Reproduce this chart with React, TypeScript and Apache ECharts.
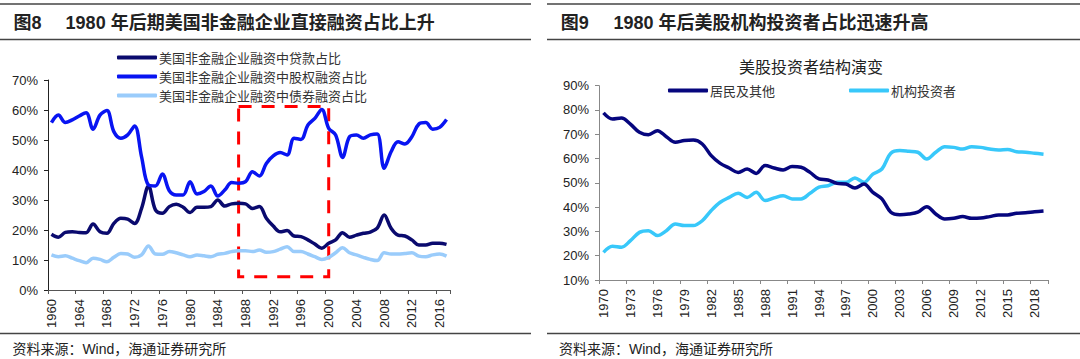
import React, { useEffect, useRef } from "react";
import * as echarts from "echarts";

const leftYears: string[] = Array.from({ length: 58 }, (_, i) => String(1960 + i));
const rightYears: string[] = Array.from({ length: 50 }, (_, i) => String(1970 + i));

const loanShare = [
  18.6, 17.6, 19.2, 19.4, 19.2, 19.1, 22, 19.4, 18.9, 22.2,
  23.9, 23.6, 22.2, 27.2, 34.7, 26.7, 25.6, 27.8, 28.6, 27.6,
  25.8, 27.6, 27.6, 27.8, 30, 28, 28.7, 28.9, 28.7, 27.2,
  27.8, 23.9, 21.3, 19.4, 19.8, 18, 17.8, 16.7, 15.3, 13.9,
  15.6, 16.7, 19.1, 17.6, 18.3, 18.9, 19.3, 20.6, 25, 20.6,
  18.3, 18, 16.7, 15, 15, 15.6, 15.6, 15.2,
];
const equityShare = [
  55.8, 58.3, 55.8, 56.7, 58, 59.1, 53.6, 58.3, 59.8, 52.8,
  50.6, 51.7, 54.7, 44.4, 35, 34.7, 38.7, 33.1, 31.7, 31.7,
  36.1, 32, 32.8, 34.7, 31.3, 33.3, 35.8, 35.6, 36.1, 39.4,
  38, 42.2, 44.7, 45.8, 45, 50.6, 50.2, 55, 57.2, 60.2,
  53.9, 51.7, 44.2, 51.1, 51.7, 50.6, 51.7, 52, 40.6, 46.1,
  49.4, 48.7, 51.1, 55.3, 55.8, 53.6, 54.2, 56.8,
];
const bondShare = [
  11.7, 11.1, 11.4, 10.6, 9.8, 9.1, 10.6, 10.2, 9.4, 10.9,
  12.2, 12, 10.9, 11.7, 14.7, 12, 11.9, 12.8, 12.4, 11.7,
  11.1, 11.7, 11.4, 11.1, 11.9, 12.2, 12.8, 13.1, 13.1, 12.8,
  13.3, 12.6, 12.8, 13.6, 14.4, 12.8, 12.8, 12, 11.1, 10.2,
  10.9, 12.4, 14.1, 12.4, 11.7, 10.9, 10.2, 9.8, 12.4, 12,
  12, 12.2, 12.4, 11.3, 11.1, 11.7, 12, 11.3,
];
const households = [
  78.8, 76.3, 76.7, 74.2, 70.8, 69.8, 71.5, 69, 66.7, 67.4,
  67.6, 66, 61.2, 58, 56.1, 54.3, 55.7, 53.9, 57.1, 56.1,
  55.3, 56.7, 56.4, 54.3, 51.6, 51.2, 49.8, 49.5, 47.9, 49.5,
  46.1, 43.4, 37.9, 36.9, 37.2, 37.9, 40.2, 37.2, 35.1, 35.4,
  36.1, 35.4, 35.5, 36.1, 36.8, 36.8, 37.5, 37.7, 38.1, 38.4,
];
const institutions = [
  21.4, 23.9, 23.5, 26.2, 29.6, 30.3, 28.3, 30.3, 33.1, 32.4,
  32.4, 34.4, 38.6, 42, 44, 45.7, 44, 46.1, 42.7, 43.8,
  44.7, 43.4, 43.4, 45.7, 48.2, 48.8, 50.2, 50.2, 52, 50.2,
  53.6, 55.7, 62.2, 63.3, 63, 62.6, 59.8, 62.6, 64.9, 64.6,
  63.9, 64.9, 64.6, 63.9, 63.5, 63.7, 62.8, 62.6, 62.2, 61.8,
];

const leftNames = ["美国非金融企业融资中贷款占比", "美国非金融企业融资中股权融资占比", "美国非金融企业融资中债券融资占比"];
const rightNames = ["居民及其他", "机构投资者"];
const highlightRange = { fromYear: "1987", toYear: "2000", top: 61.2, bottom: 4.4 };

const FONT = "'Liberation Sans', Arial, 'Noto Sans CJK SC', sans-serif";

export default function App() {
  const ref = useRef<HTMLDivElement>(null);
  useEffect(() => {
    document.body.style.margin = "0";
    const chart = echarts.init(ref.current!, undefined, { renderer: "svg" });
    const axisLabel = { color: "#222", fontSize: 13, fontFamily: FONT };
    const legendBase = {
      orient: "horizontal",
      icon: "roundRect",
      itemWidth: 40,
      itemHeight: 4,
      itemGap: 6,
      textStyle: { color: "#333", fontSize: 13, fontFamily: "'Noto Sans CJK SC', sans-serif", padding: [0, 0, 0, -3] },
      selectedMode: false,
      padding: 0,
    };
    const rule = (x1: number, x2: number, y: number) => ({
      type: "line",
      shape: { x1, y1: y, x2, y2: y },
      style: { stroke: "#444", lineWidth: 1.5 },
      silent: true,
    });
    const text = (t: string, x: number, y: number, size: number, bold: boolean, align = "left") => ({
      type: "text",
      x,
      y,
      style: {
        text: t,
        fill: "#222",
        font: `${bold ? "bold " : ""}${size}px 'Liberation Sans', Arial, 'Noto Sans CJK SC', sans-serif`,
        textAlign: align,
        textVerticalAlign: "middle",
      },
      silent: true,
    });
    chart.setOption({
      animation: false,
      textStyle: { fontFamily: FONT },
      grid: [
        { left: 48, right: 630, top: 80, bottom: 69 },
        { left: 599, right: 32, top: 85.7, bottom: 79 },
      ],
      xAxis: [
        {
          type: "category",
          gridIndex: 0,
          data: leftYears,
          boundaryGap: true,
          axisLine: { lineStyle: { color: "#555", width: 1 } },
          axisTick: { show: true, interval: 3, length: 4, lineStyle: { color: "#555" } },
          axisLabel: { ...axisLabel, rotate: 90, interval: 3, margin: 9 },
        },
        {
          type: "category",
          gridIndex: 1,
          data: rightYears,
          boundaryGap: true,
          axisLine: { lineStyle: { color: "#888", width: 1 } },
          axisTick: { show: true, interval: 2, length: 4, lineStyle: { color: "#888" } },
          axisLabel: { ...axisLabel, rotate: 90, interval: 2, margin: 9 },
        },
      ],
      yAxis: [
        {
          type: "value",
          gridIndex: 0,
          min: 0,
          max: 70,
          interval: 10,
          axisLine: { show: true, lineStyle: { color: "#222", width: 1 } },
          axisTick: { show: true, length: 4, lineStyle: { color: "#222" } },
          splitLine: { show: false },
          axisLabel: { ...axisLabel, margin: 10, formatter: "{value}%" },
        },
        {
          type: "value",
          gridIndex: 1,
          min: 10,
          max: 90,
          interval: 10,
          axisLine: { show: true, lineStyle: { color: "#888", width: 1 } },
          axisTick: { show: true, length: 4, lineStyle: { color: "#888" } },
          splitLine: { show: false },
          axisLabel: { ...axisLabel, margin: 10, formatter: "{value}%" },
        },
      ],
      legend: [
        { ...legendBase, left: 117, top: 51, data: [leftNames[0]] },
        { ...legendBase, left: 117, top: 70, data: [leftNames[1]] },
        { ...legendBase, left: 117, top: 89, data: [leftNames[2]] },
        { ...legendBase, left: 668, top: 84, data: [rightNames[0]] },
        { ...legendBase, left: 849, top: 84, data: [rightNames[1]] },
      ],
      series: [
        {
          name: leftNames[0],
          type: "line",
          xAxisIndex: 0,
          yAxisIndex: 0,
          data: loanShare,
          smooth: 0.35,
          showSymbol: false,
          lineStyle: { color: "#0A0A6E", width: 3.5 },
          itemStyle: { color: "#0A0A6E" },
          z: 3,
        },
        {
          name: leftNames[1],
          type: "line",
          xAxisIndex: 0,
          yAxisIndex: 0,
          data: equityShare,
          smooth: 0.35,
          showSymbol: false,
          lineStyle: { color: "#0814F2", width: 3.5 },
          itemStyle: { color: "#0814F2" },
          z: 3,
          markArea: {
            silent: true,
            itemStyle: { color: "rgba(0,0,0,0)", borderColor: "#FF0000", borderWidth: 3, borderType: [13, 10] },
            data: [[
              { xAxis: highlightRange.fromYear, yAxis: highlightRange.top },
              { xAxis: highlightRange.toYear, yAxis: highlightRange.bottom },
            ]],
          },
        },
        {
          name: leftNames[2],
          type: "line",
          xAxisIndex: 0,
          yAxisIndex: 0,
          data: bondShare,
          smooth: 0.35,
          showSymbol: false,
          lineStyle: { color: "#9ACCFB", width: 3.5 },
          itemStyle: { color: "#9ACCFB" },
          z: 2,
        },
        {
          name: rightNames[0],
          type: "line",
          xAxisIndex: 1,
          yAxisIndex: 1,
          data: households,
          smooth: 0.35,
          showSymbol: false,
          lineStyle: { color: "#06067E", width: 3.5 },
          itemStyle: { color: "#06067E" },
          z: 3,
        },
        {
          name: rightNames[1],
          type: "line",
          xAxisIndex: 1,
          yAxisIndex: 1,
          data: institutions,
          smooth: 0.35,
          showSymbol: false,
          lineStyle: { color: "#38C8FA", width: 3.5 },
          itemStyle: { color: "#38C8FA" },
          z: 2,
        },
      ],
      graphic: [
        rule(0, 531, 4),
        rule(0, 531, 39.5),
        rule(0, 531, 333.5),
        rule(547, 1080, 4),
        rule(547, 1080, 39.5),
        rule(547, 1080, 333.5),
        text("图8", 13.5, 23, 18, true),
        text("1980 年后期美国非金融企业直接融资占比上升", 65.6, 23, 18, true),
        text("图9", 560.7, 23, 18, true),
        text("1980 年后美股机构投资者占比迅速升高", 613.5, 23, 18, true),
        text("美股投资者结构演变", 811, 67, 16, false, "center"),
        text("资料来源：Wind，海通证券研究所", 12.4, 349, 14, false),
        text("资料来源：Wind，海通证券研究所", 559, 349, 14, false),
      ],
    });
    return () => chart.dispose();
  }, []);
  return <div ref={ref} style={{ width: 1080, height: 359 }} />;
}
